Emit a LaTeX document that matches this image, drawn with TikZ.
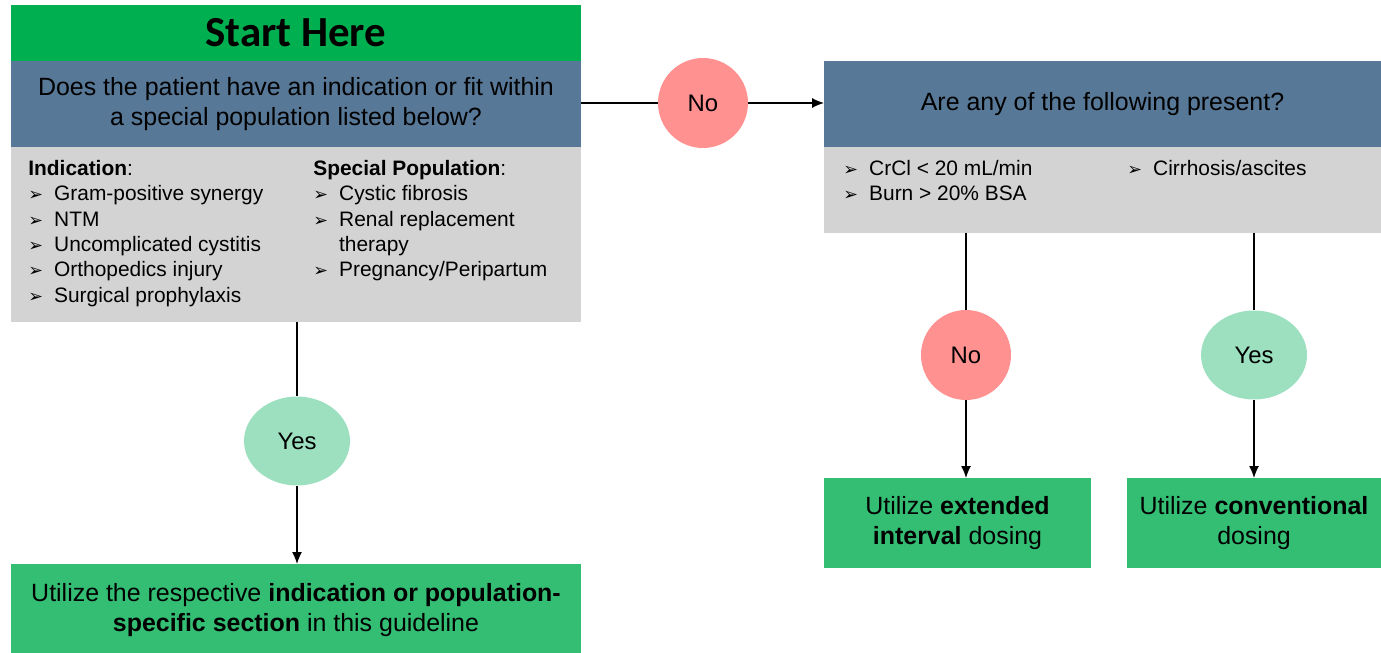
\documentclass[tikz,border=0pt]{standalone}
\usepackage{fontspec}
\setmainfont{Liberation Sans}
\newfontfamily\calibrifont{Carlito}
\newfontfamily\dingfont{DejaVu Sans}
\usetikzlibrary{arrows.meta, shapes.geometric, positioning}
\definecolor{startgreen}{RGB}{0,176,80}
\definecolor{askblue}{RGB}{88,120,152}
\definecolor{listgray}{RGB}{211,211,211}
\definecolor{resgreen}{RGB}{52,190,116}
\definecolor{nored}{RGB}{255,145,145}
\definecolor{yesgreen}{RGB}{156,224,192}
\tikzset{> = { Latex[length = 2.4mm, width = 2mm] }}
\tikzset{
	box/.style = {rectangle, inner sep = 0pt, outer sep = 0pt, align = center},
	askbox/.style = {box, fill = askblue, font = \fontsize{14.2}{17}\selectfont},
	graybox/.style = {box, fill = listgray},
	resbox/.style = {box, fill = resgreen, font = \fontsize{14.2}{17.4}\selectfont},
	nocirc/.style = {circle, fill = nored, inner sep = 0pt, minimum size = 1.8cm, font = \fontsize{13.6}{16}\selectfont},
	yescirc/.style = {ellipse, fill = yesgreen, inner sep = 0pt, minimum width = 2.12cm, minimum height = 1.78cm, font = \fontsize{13.6}{16}\selectfont},
	listtext/.style = {anchor = north west, inner sep = 0pt, align = left, font = \fontsize{11.9}{14.4}\selectfont}
}
\newcommand{\itm}{\makebox[14.7pt][l]{\dingfont\fontsize{10}{10}\selectfont ➢}}

\begin{document}
\begin{tikzpicture}[x = 0.02cm, y = -0.02cm]
		\clip (0, 0) rectangle (1381, 652);
		\useasboundingbox (0, 0) rectangle (1381, 652);

		% left column
		\node [box, fill = startgreen, minimum width = 11.4cm, minimum height = 1.12cm, font = \calibrifont\bfseries\fontsize{24.4}{28}\selectfont] (start) at (296, 33) {Start Here};
		\node [askbox, minimum width = 11.4cm, minimum height = 1.72cm] (ask) at (296, 104) {Does the patient have an indication or fit within\\a special population listed below?};
		\node [graybox, minimum width = 11.4cm, minimum height = 3.5cm] (lgray) at (296, 234.5) {};
		\node [listtext] (indlist) at (28, 160) {\textbf{Indication}:\\
			\itm Gram-positive synergy\\
			\itm NTM\\
			\itm Uncomplicated cystitis\\
			\itm Orthopedics injury\\
			\itm Surgical prophylaxis};
		\node [listtext] (poplist) at (313, 160) {\textbf{Special Population}:\\
			\itm Cystic fibrosis\\
			\itm Renal replacement\\
			\hspace*{14.7pt}therapy\\
			\itm Pregnancy/Peripartum};
		\node [yescirc] (lyes) at (297, 441) {Yes};
		\node [resbox, minimum width = 11.4cm, minimum height = 1.84cm] (lres) at (296, 610) {Utilize the respective \textbf{indication or population-}\\\textbf{specific section} in this guideline};

		% right column
		\node [nocirc] (lno) at (703, 103) {No};
		\node [askbox, minimum width = 11.14cm, minimum height = 1.72cm] (rask) at (1102.5, 104) {Are any of the following present?};
		\node [graybox, minimum width = 11.14cm, minimum height = 1.72cm] (rgray) at (1102.5, 190) {};
		\node [listtext] (riskA) at (843, 160) {\itm CrCl < 20 mL/min\\\itm Burn > 20\% BSA};
		\node [listtext] (riskB) at (1127, 160) {\itm Cirrhosis/ascites};
		\node [nocirc] (rno) at (966, 355) {No};
		\node [yescirc] (ryes) at (1254, 355) {Yes};
		\node [resbox, minimum width = 5.34cm, minimum height = 1.8cm] (extres) at (957.5, 523) {Utilize \textbf{extended}\\\textbf{interval} dosing};
		\node [resbox, minimum width = 5.08cm, minimum height = 1.8cm] (convres) at (1254, 523) {Utilize \textbf{conventional}\\dosing};

		% connectors
		\draw [thick] (lno.west -| ask.east) -- (lno.west);
		\draw [thick, ->] (lno.east) -- (lno.east -| rask.west);
		\draw [thick] (lgray.south -| lyes) -- (lyes.north);
		\draw [thick, ->] (lyes.south) -- (lyes.south |- lres.north);
		\draw [thick] (rgray.south -| rno) -- (rno.north);
		\draw [thick, ->] (rno.south) -- (rno.south |- extres.north);
		\draw [thick] (rgray.south -| ryes) -- (ryes.north);
		\draw [thick, ->] (ryes.south) -- (ryes.south |- convres.north);
	\end{tikzpicture}
\end{document}
